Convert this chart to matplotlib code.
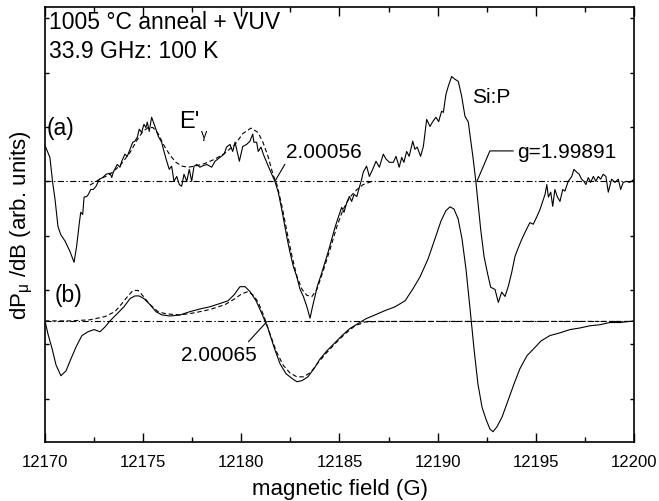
import numpy as np
import matplotlib
matplotlib.use("Agg")
import matplotlib.pyplot as plt
from matplotlib.ticker import MultipleLocator

plt.rcParams['font.family'] = ['Liberation Sans', 'DejaVu Sans']
plt.rcParams['mathtext.fontset'] = 'custom'
plt.rcParams['mathtext.rm'] = 'Liberation Sans'
plt.rcParams['mathtext.it'] = 'Liberation Sans'

# ---------------- data (field in G, signal in arb. units) ----------------
B0 = 12170.0
offset_a = 4.0
offset_b = 1.42

# (a) measured spectrum
field_a = B0 + np.array([
    0.00, 0.25, 0.39, 0.51, 0.66, 0.80, 1.02, 1.27, 1.48, 1.61, 1.75, 1.82, 1.92, 1.99,
    2.12, 2.21, 2.33, 2.46, 2.60, 2.77, 2.94, 3.11, 3.31, 3.40, 3.48, 3.68, 3.82, 3.91,
    4.07, 4.19, 4.33, 4.47, 4.58, 4.70, 4.80, 4.92, 5.04, 5.14, 5.21, 5.31, 5.43, 5.60,
    5.77, 5.94, 6.06, 6.20, 6.33, 6.45, 6.57, 6.71, 6.84, 6.96, 7.08, 7.22, 7.35, 7.47,
    7.59, 7.73, 7.89, 8.06, 8.24, 8.49, 8.66, 8.91, 9.12, 9.25, 9.42, 9.56, 9.68, 9.90,
    10.07, 10.27, 10.44, 10.58, 10.64, 10.78, 10.86, 11.00, 11.12, 11.29, 11.49, 11.71,
    11.88, 12.06, 12.22, 12.34, 12.48, 12.65, 12.82, 12.99, 13.16, 13.33, 13.50, 13.63,
    13.75, 13.87, 14.04, 14.26, 14.43, 14.60, 14.77, 14.94, 15.11, 15.23, 15.37, 15.50,
    15.62, 15.74, 15.88, 16.01, 16.13, 16.21, 16.38, 16.52, 16.69, 16.86, 17.03, 17.23,
    17.37, 17.54, 17.74, 17.88, 18.04, 18.17, 18.28, 18.42, 18.55, 18.73, 18.84, 18.96,
    19.13, 19.27, 19.44, 19.61, 19.75, 19.91, 20.05, 20.20, 20.29, 20.42, 20.54, 20.71,
    20.88, 21.05, 21.22, 21.39, 21.56, 21.68, 21.81, 21.95, 22.07, 22.19, 22.36, 22.53,
    22.70, 22.92, 23.09, 23.26, 23.43, 23.60, 23.77, 23.94, 24.11, 24.28, 24.53, 24.70,
    24.87, 25.04, 25.21, 25.35, 25.47, 25.56, 25.64, 25.76, 25.86, 25.97, 26.09, 26.23,
    26.37, 26.48, 26.65, 26.83, 26.94, 27.08, 27.21, 27.33, 27.45, 27.55, 27.67, 27.79,
    27.93, 28.06, 28.18, 28.30, 28.43, 28.57, 28.69, 28.86, 29.03, 29.20, 29.32, 29.45,
    29.63, 29.76, 29.88, 30.00])
signal_a = np.array([
    0.66, 0.44, -0.02, -0.33, -0.83, -0.98, -1.10, -1.29, -1.49, -1.20, -0.76, -0.57, -0.61, -0.29,
    -0.28, -0.24, -0.15, -0.15, -0.09, 0.04, 0.07, 0.13, 0.15, 0.07, 0.17, 0.31, 0.26, 0.37,
    0.50, 0.46, 0.59, 0.72, 0.74, 0.81, 0.96, 0.90, 1.05, 0.99, 1.09, 0.92, 1.18, 1.01,
    0.83, 0.72, 0.55, 0.37, 0.22, 0.28, 0.00, 0.09, -0.06, -0.09, 0.13, 0.00, 0.22, 0.00,
    0.28, 0.31, 0.26, 0.29, 0.31, 0.26, 0.37, 0.44, 0.50, 0.63, 0.68, 0.55, 0.72, 0.37,
    0.64, 0.68, 0.74, 0.87, 0.72, 0.72, 0.55, 0.63, 0.50, 0.35, 0.18, 0.00,
    -0.20, -0.52, -0.83, -1.07, -1.31, -1.57, -1.75, -1.99, -2.12, -2.30, -2.52, -2.30,
    -2.12, -1.93, -1.75, -1.49, -1.29, -1.07, -0.85, -0.66, -0.48, -0.57, -0.39, -0.28,
    -0.37, -0.24, -0.28, -0.11, 0.04, 0.17, 0.28, 0.09, 0.22, 0.37, 0.26, 0.50,
    0.41, 0.35, 0.35, 0.46, 0.26, 0.44, 0.35, 0.55, 0.46, 0.74, 0.59, 0.63,
    0.46, 0.64, 1.14, 1.01, 1.10, 1.18, 1.10, 1.29, 1.27, 1.60, 1.75, 1.93,
    1.88, 1.84, 1.57, 1.20, 1.09, 0.77, 0.41, -0.02, -0.46, -0.88, -1.38, -1.68,
    -1.95, -1.99, -2.23, -2.04, -2.12, -1.93, -1.68, -1.38, -1.22, -1.07, -0.88, -0.76,
    -0.79, -0.66, -0.52, -0.37, -0.24, -0.06, -0.29, -0.20, -0.46, -0.15, -0.28, -0.37,
    -0.15, -0.18, 0.00, 0.09, 0.22, 0.17, 0.13, 0.04, 0.00, -0.06, 0.07, -0.02,
    0.09, 0.00, 0.09, 0.04, 0.13, 0.09, -0.20, 0.04, -0.02, 0.04, -0.15, -0.02,
    0.00, -0.02, 0.00, 0.04])

# (a) simulated E'_gamma fit
fit_field_a = B0 + np.array([
    2.29, 2.80, 3.31, 3.82, 4.33, 4.69, 4.99, 5.25, 5.50, 5.76, 6.06, 6.37, 6.67, 6.98,
    7.28, 7.64, 8.15, 8.66, 9.17, 9.68, 10.08, 10.49, 10.85, 11.10, 11.36, 11.61, 11.82,
    12.07, 12.33, 12.58, 12.83, 13.09, 13.34, 13.60, 13.85, 14.16, 14.52, 14.87, 15.18,
    15.53, 15.89, 16.20, 16.66])
fit_signal_a = np.array([
    -0.07, 0.04, 0.13, 0.29, 0.53, 0.76, 0.92, 0.99, 0.99, 0.88, 0.66, 0.48, 0.35, 0.28,
    0.26, 0.28, 0.33, 0.41, 0.52, 0.68, 0.88, 0.98, 0.90, 0.72, 0.46, 0.13, -0.07,
    -0.46, -0.94, -1.38, -1.75, -1.99, -2.10, -2.12, -1.99, -1.66, -1.25, -0.83, -0.52,
    -0.29, -0.15, -0.06, 0.00])

# (b) measured spectrum
field_b = B0 + np.array([
    0.00, 0.15, 0.36, 0.56, 0.81, 1.07, 1.32, 1.58, 1.88, 2.19, 2.50, 2.80, 3.06, 3.31,
    3.67, 4.02, 4.33, 4.58, 4.79, 5.04, 5.35, 5.65, 5.96, 6.37, 6.88, 7.38, 7.89, 8.40,
    8.91, 9.32, 9.63, 9.93, 10.19, 10.44, 10.75, 11.05, 11.36, 11.66, 11.97, 12.27, 12.58,
    12.83, 13.09, 13.39, 13.70, 14.01, 14.36, 14.72, 15.13, 15.53, 15.94, 16.35, 16.81,
    17.32, 17.83, 18.34, 18.74, 19.10, 19.51, 19.86, 20.17, 20.42, 20.63, 20.83, 21.04,
    21.24, 21.44, 21.65, 21.85, 22.05, 22.26, 22.46, 22.66, 22.82, 23.02, 23.28, 23.58,
    23.89, 24.19, 24.55, 24.90, 25.26, 25.72, 26.23, 26.74, 27.25, 27.76, 28.27, 28.77,
    29.28, 30.00])
signal_b = np.array([
    0.01, -0.23, -0.50, -0.80, -1.00, -0.91, -0.69, -0.47, -0.26, -0.19, -0.15, -0.19, -0.10, 0.01,
    0.14, 0.27, 0.42, 0.47, 0.47, 0.42, 0.31, 0.18, 0.12, 0.10, 0.12, 0.18, 0.23, 0.27,
    0.33, 0.38, 0.49, 0.64, 0.64, 0.55, 0.38, 0.14, -0.13, -0.47, -0.78, -0.96, -1.05,
    -1.11, -1.09, -1.02, -0.87, -0.69, -0.54, -0.41, -0.26, -0.13, -0.04, 0.05, 0.12,
    0.20, 0.27, 0.38, 0.60, 0.82, 1.15, 1.52, 1.85, 2.04, 2.11, 2.07, 1.89,
    1.52, 0.97, 0.23, -0.50, -1.15, -1.58, -1.80, -1.98, -2.03, -1.94, -1.76, -1.46,
    -1.15, -0.87, -0.63, -0.50, -0.36, -0.26, -0.21, -0.15, -0.12, -0.08, -0.06, -0.02,
    -0.02, 0.01])

# (b) simulated E'_gamma fit
fit_field_b = B0 + np.array([
    0.00, 1.27, 2.29, 3.06, 3.56, 3.92, 4.23, 4.48, 4.74, 4.99, 5.35, 5.76, 6.16, 6.88,
    7.64, 8.40, 9.17, 9.68, 10.03, 10.34, 10.59, 10.85, 11.15, 11.46, 11.77, 12.12, 12.48,
    12.83, 13.19, 13.55, 13.91, 14.31, 14.77, 15.28, 15.79, 16.30, 17.06, 30.00])
fit_signal_b = np.array([
    0.01, 0.01, 0.03, 0.09, 0.18, 0.33, 0.47, 0.57, 0.57, 0.47, 0.31, 0.18, 0.14, 0.12,
    0.16, 0.22, 0.31, 0.42, 0.51, 0.55, 0.49, 0.36, 0.10, -0.23, -0.54, -0.80, -0.95,
    -1.02, -1.02, -0.93, -0.76, -0.59, -0.41, -0.23, -0.08, -0.01, 0.00, 0.00])

x_ticks = [12170, 12175, 12180, 12185, 12190, 12195, 12200]

# ---------------- figure ----------------
fig = plt.figure(figsize=(6.59, 5.02), dpi=100)
ax = fig.add_axes([45/659, 59/502, 589/659, 435/502])

lw = 0.8
dashdot = (5.5, 2.2, 1.2, 2.2)
dash = (4.0, 2.5)

ax.axhline(offset_a, color='black', lw=lw, dashes=dashdot)
ax.axhline(offset_b, color='black', lw=lw, dashes=dashdot)

ax.plot(field_a, signal_a + offset_a, color='black', lw=lw)
ax.plot(fit_field_a, fit_signal_a + offset_a, color='black', lw=lw, dashes=dash)
ax.plot(field_b, signal_b + offset_b, color='black', lw=lw)
ax.plot(fit_field_b, fit_signal_b + offset_b, color='black', lw=lw, dashes=dash)

ax.set_xlim(12170, 12200)
ax.set_ylim(-0.8, 7.21)
ax.set_xticks(x_ticks)
ax.set_xticklabels([str(t) for t in x_ticks])
ax.xaxis.set_minor_locator(MultipleLocator(2.5))
ax.yaxis.set_major_locator(MultipleLocator(1))
ax.set_yticklabels([])

ax.tick_params(axis='x', which='major', direction='in', length=6.5, width=1.0,
               top=True, labelsize=12, pad=9, colors='black')
ax.tick_params(axis='x', which='minor', direction='in', length=3.5, width=1.0, top=True)
ax.tick_params(axis='y', which='major', direction='in', length=3.0, width=1.0,
               right=True, labelleft=False)
for s in ax.spines.values():
    s.set_linewidth(1.2)

ax.set_xlabel('magnetic field (G)', fontsize=16, labelpad=6)
ax.set_ylabel(r'dP$_{\mu}$ /dB (arb. units)', fontsize=16, labelpad=7)

fs = 16.5
ax.text(0.006, 0.966, '1005 °C anneal + VUV', transform=ax.transAxes,
        fontsize=fs, ha='left', va='center')
ax.text(0.006, 0.899, '33.9 GHz: 100 K', transform=ax.transAxes,
        fontsize=fs, ha='left', va='center')
ax.text(12170.1, 5.0, '(a)', fontsize=fs, ha='left', va='center')
ax.text(12170.5, 1.92, '(b)', fontsize=fs, ha='left', va='center')
ax.text(12176.85, 5.12, "E'", fontsize=17, ha='left', va='center')
ax.text(12177.95, 4.87, 'γ', fontsize=9, ha='left', va='center')
ax.text(12191.75, 5.57, 'Si:P', fontsize=15, ha='left', va='center')

ax.annotate('2.00056', xy=(12181.71, offset_a), xytext=(12182.3, 4.54),
            fontsize=15, ha='left', va='center',
            arrowprops=dict(arrowstyle='-', lw=0.8, color='black',
                            shrinkA=0, shrinkB=0, relpos=(0.0, 0.0)))
ax.annotate('2.00065', xy=(12181.31, offset_b), xytext=(12176.95, 0.82),
            fontsize=15, ha='left', va='center',
            arrowprops=dict(arrowstyle='-', lw=0.8, color='black',
                            shrinkA=0, shrinkB=0, relpos=(0.85, 1.0)))
ax.plot([12192.0, 12192.66, 12193.84], [offset_a, 4.56, 4.56], color='black', lw=0.8)
ax.text(12194.05, 4.55, 'g=1.99891', fontsize=15, ha='left', va='center')

fig.savefig('out.png', dpi=100)
